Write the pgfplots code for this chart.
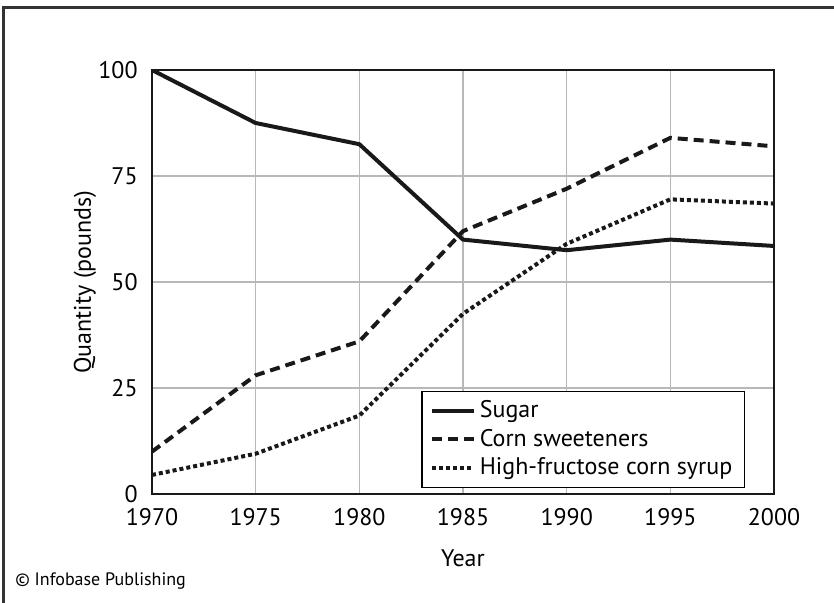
\documentclass[border=0pt]{standalone}
\usepackage{pgfplots}
\pgfplotsset{compat=1.18}
\usepackage{fontspec}
\setmainfont{PT Sans}
\begin{document}
\fontsize{12pt}{14pt}\selectfont
\begin{tikzpicture}[x=1pt,y=1pt]
\useasboundingbox (-76,-54) rectangle (341,247);
\draw[line width=1.5pt, color=black!80] (-74,-60) -- (-74,243.5) -- (350,243.5);
\begin{axis}[
  at={(0,0)}, anchor=south west,
  scale only axis, width=311pt, height=212pt,
  xmin=1970, xmax=2000, ymin=0, ymax=100,
  xtick={1970,1975,1980,1985,1990,1995,2000},
  ytick={0,25,50,75,100},
  /pgf/number format/assume math mode=true,
  xticklabel style={/pgf/number format/1000 sep={}, yshift=-3pt},
  yticklabel style={xshift=-3pt},
  grid=major,
  grid style={color=black!28, line width=0.75pt},
  axis line style={line width=1pt, color=black!90},
  major tick length=0pt,
  xlabel={Year}, ylabel={Quantity (pounds)},
  xlabel style={at={(axis description cs:0.5,0)}, anchor=center, yshift=-32pt},
  ylabel style={at={(axis description cs:0,0.5)}, anchor=center, yshift=33.5pt},
  legend style={at={(rel axis cs:1,0)}, anchor=south east, xshift=-14.5pt, yshift=3pt,
    draw=black, line width=0.75pt, inner xsep=4pt, inner ysep=2.5pt, row sep=0pt,
    cells={anchor=west}, font=\fontsize{12pt}{14pt}\selectfont},
  legend image code/.code={\draw[#1] (0pt,0pt) -- (21pt,0pt);},
  legend cell align=left,
]
\addplot[line width=2pt, color=black!90] coordinates {
(1970,100) (1975,87.5) (1980,82.5) (1985,60) (1990,57.5) (1995,60) (2000,58.5)};
\addlegendentry{Sugar}
\addplot[line width=2pt, color=black!90, dash pattern=on 5pt off 3pt] coordinates {
(1970,10) (1975,28) (1980,36) (1985,62) (1990,72) (1995,84) (2000,82)};
\addlegendentry{Corn sweeteners}
\addplot[line width=2pt, color=black!90, dash pattern=on 2pt off 1.5pt] coordinates {
(1970,4.5) (1975,9.5) (1980,18.5) (1985,42.5) (1990,59) (1995,69.5) (2000,68.5)};
\addlegendentry{High-fructose corn syrup}
\end{axis}
\node[anchor=west, font=\fontsize{9pt}{11pt}\selectfont, inner sep=0pt] at (-68.5,-43.5) {© Infobase Publishing};
\end{tikzpicture}
\end{document}
